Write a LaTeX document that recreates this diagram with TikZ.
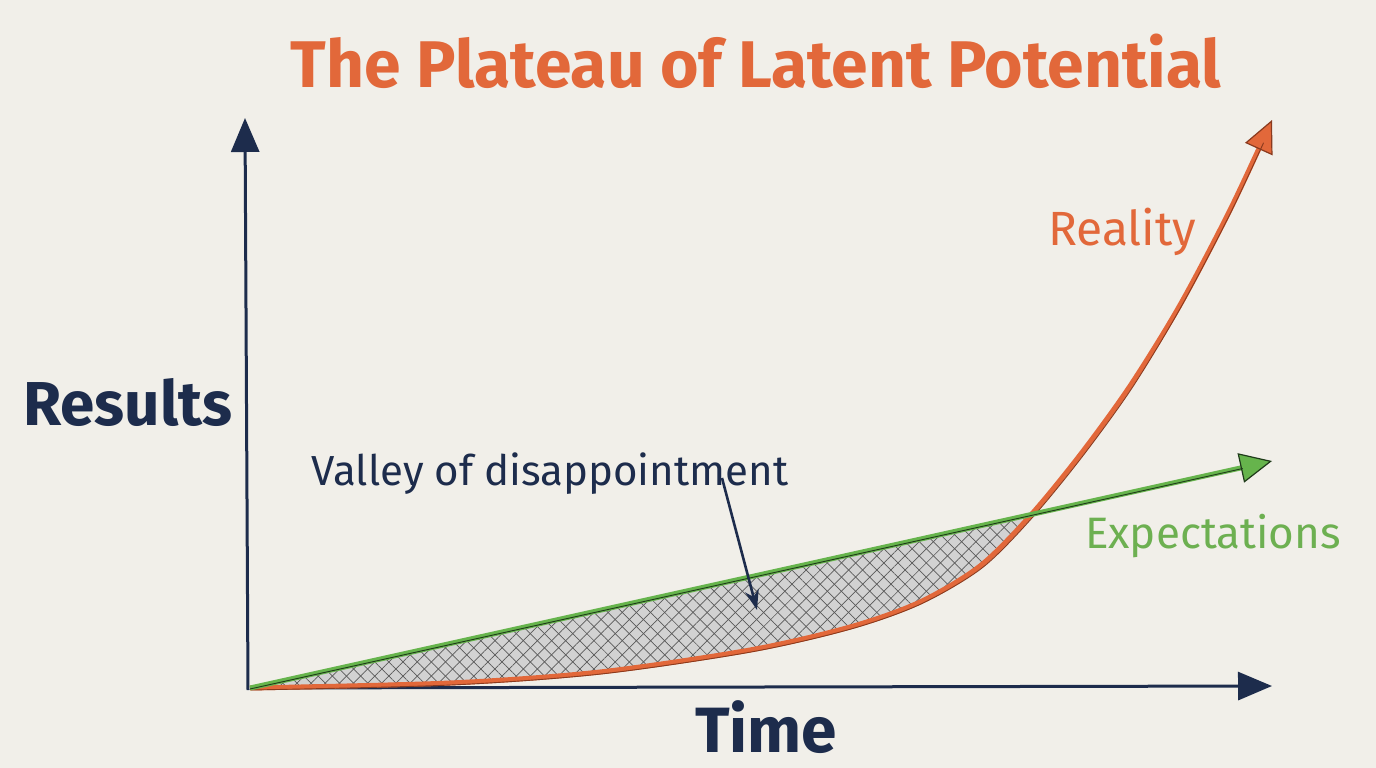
\documentclass[tikz,border=0pt]{standalone}
\usepackage{fontspec}
\setmainfont{Fira Sans}
\usetikzlibrary{arrows.meta,patterns.meta}
\definecolor{paper}{HTML}{F1EFE9}
\definecolor{navy}{HTML}{1D2C4C}
\definecolor{orng}{HTML}{E2683A}
\definecolor{orngdk}{HTML}{8A3A1E}
\definecolor{grn}{HTML}{66B44C}
\definecolor{grndk}{HTML}{1F3A1A}
\definecolor{grntxt}{HTML}{6DB051}
\begin{document}
\begin{tikzpicture}[x=1pt,y=-1pt,
  lbl/.style={anchor=base, inner sep=0pt},
  axisline/.style={navy, line width=3pt, -{Triangle[length=34pt,width=28pt]}}]
\useasboundingbox[fill=paper] (0,0) rectangle (1376,768);
% named points
\coordinate (O) at (250,688);
\coordinate (ytip) at (245,118);
\coordinate (xtip) at (1272,686);
\coordinate (gtip) at (1272,461);
\coordinate (otip) at (1272,120);
\coordinate (vstart) at (722,478);
\coordinate (vtip) at (757,610);
% hatched valley region
\begin{scope}
\clip (250,688) -- (1272,462) -- (1272,720) -- (250,720) -- cycle;
\clip plot[smooth,tension=0.5] coordinates {(250,688) (450,683) (600,672) (750,650) (850,627) (920,602) (980,566) (1030,516) (1080,455) (1130,386) (1180,305) (1230,210) (1272,120)} -- (1272,100) -- (250,100) -- cycle;
\fill[gray!35] (240,400) rectangle (1100,700);
\fill[pattern={Lines[angle=45,distance=10pt,line width=0.7pt]}, pattern color=black!65] (240,400) rectangle (1100,700);
\fill[pattern={Lines[angle=-45,distance=10pt,line width=0.7pt]}, pattern color=black!65] (240,400) rectangle (1100,700);
\end{scope}
% axes
\draw[axisline] (248,690) -- (ytip);
\draw[axisline] (O) -- (xtip);
% reality curve
\draw[orng, line width=5pt, -{Triangle[length=32pt,width=30pt,fill=orng,color=orngdk,line width=1.2pt]}]
  plot[smooth,tension=0.5] coordinates {(250,688) (450,683) (600,672) (750,650) (850,627) (920,602) (980,566) (1030,516) (1080,455) (1130,386) (1180,305) (1230,210) (1272,120)};
\draw[orngdk, line width=0.9pt, shorten >=30pt]
  plot[smooth,tension=0.5] coordinates {(251,690) (451,685) (601,674) (751,652) (851,629) (921,604) (982,568) (1032,518) (1082,457) (1132,388) (1181,307) (1231,212) (1273,122)};
% expectations line
\draw[grn, line width=5pt, -{Triangle[length=32pt,width=30pt,fill=grn,color=grndk,line width=1.2pt]}] (O) -- (gtip);
\draw[grndk, line width=0.9pt, shorten >=30pt] ([yshift=-1pt]O) -- ([yshift=-1pt]gtip);
% valley arrow
\draw[navy, line width=2.6pt, -{Stealth[length=20pt,width=14pt]}] (vstart) -- (vtip);
% texts
\node[lbl, text=orng, font=\fontsize{66}{70}\selectfont\bfseries] (title) at (756,88) {The Plateau of Latent Potential};
\node[lbl, text=navy, font=\fontsize{62}{64}\selectfont\bfseries] (results) at (128,425) {Results};
\node[lbl, text=navy, font=\fontsize{64}{66}\selectfont\bfseries] (time) at (766,752) {Time};
\node[lbl, text=orng, font=\fontsize{48}{50}\selectfont] (reality) at (1122,245) {Reality};
\node[lbl, text=grntxt, font=\fontsize{44}{46}\selectfont] (expect) at (1213,548) {Expectations};
\node[lbl, text=navy, font=\fontsize{42}{44}\selectfont] (valley) at (550,485) {Valley of disappointment};
\end{tikzpicture}
\end{document}
